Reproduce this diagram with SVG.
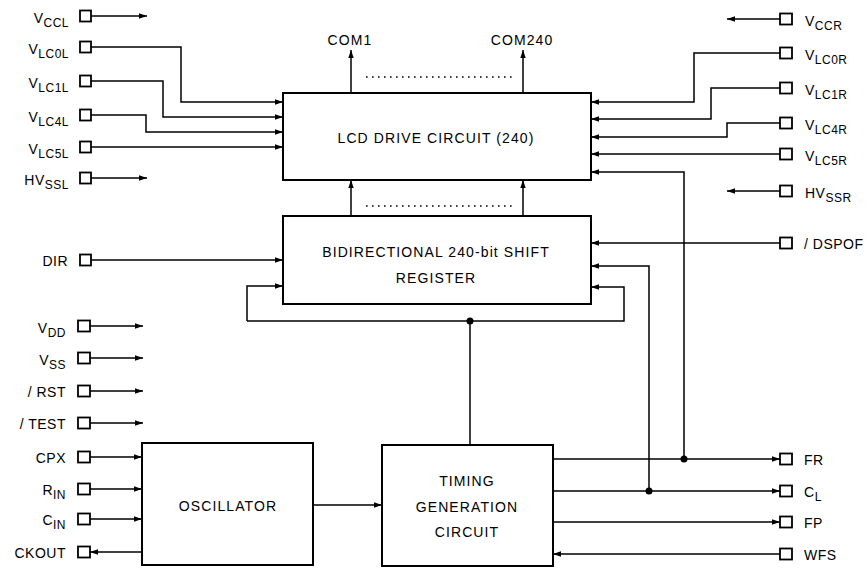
<svg xmlns="http://www.w3.org/2000/svg" width="868" height="570" viewBox="0 0 868 570">
<style>
.bx{fill:#fff;stroke:#000;stroke-width:2}
.pd{fill:#fff;stroke:#000;stroke-width:1.8}
.w{fill:none;stroke:#000;stroke-width:1.5}
.ar{marker-end:url(#a)}
.dt{fill:none;stroke:#000;stroke-width:1.6;stroke-dasharray:1.6 4.4}
text{font-family:"Liberation Sans",Arial,sans-serif;fill:#000}
.lb{font-size:14px;letter-spacing:0.5px}
.lbl{font-size:14px;letter-spacing:0.5px;text-anchor:end}
.sb{font-size:12px}
.bt{font-size:14px;letter-spacing:1.1px;text-anchor:middle}
</style>
<defs>
<marker id="a" viewBox="0 0 8 6" refX="8" refY="3" markerWidth="8" markerHeight="6" orient="auto" markerUnits="userSpaceOnUse"><path d="M0,0.3 L8,3 L0,5.7 z" fill="#000"/></marker>
</defs>

<g id="connectors">
<path class="w ar" d="M91,16 H147"/>
<path class="w ar" d="M91,47 H181 V102 H283"/>
<path class="w ar" d="M91,81 H163 V117 H283"/>
<path class="w ar" d="M91,115 H146 V132 H283"/>
<path class="w ar" d="M91,147 H283"/>
<path class="w ar" d="M91,178 H147"/>
<path class="w ar" d="M351,93 V50"/>
<path class="w ar" d="M523,93 V50"/>
<path class="dt" d="M366,77 H516"/>
<path class="w ar" d="M351,216 V180"/>
<path class="w ar" d="M523,216 V180"/>
<path class="dt" d="M366,206 H516"/>
<path class="w ar" d="M780,19 H727"/>
<path class="w ar" d="M780,53 H694 V102 H591"/>
<path class="w ar" d="M780,88 H711 V119 H591"/>
<path class="w ar" d="M780,123 H727 V137 H591"/>
<path class="w ar" d="M780,154 H591"/>
<path class="w ar" d="M780,191 H727"/>
<path class="w ar" d="M780,243 H591"/>
<path class="w ar" d="M91,260 H283"/>
<path class="w" d="M470,445 V321"/>
<path class="w ar" d="M247,321 H624 V287 H591"/>
<path class="w ar" d="M247,321 V286 H283"/>
<circle cx="470" cy="321" r="3.5" fill="#000"/>
<path class="w ar" d="M553,459 H780"/>
<path class="w ar" d="M684,459 V172 H591"/>
<circle cx="684" cy="459" r="3.5" fill="#000"/>
<path class="w ar" d="M553,491 H780"/>
<path class="w ar" d="M649,491 V266 H591"/>
<circle cx="649" cy="491" r="3.5" fill="#000"/>
<path class="w ar" d="M553,522 H780"/>
<path class="w ar" d="M780,554 H553"/>
<path class="w ar" d="M90,326 H143"/>
<path class="w ar" d="M90,358 H143"/>
<path class="w ar" d="M90,391 H143"/>
<path class="w ar" d="M90,423 H143"/>
<path class="w ar" d="M90,457 H142"/>
<path class="w ar" d="M90,489 H142"/>
<path class="w ar" d="M90,519 H142"/>
<path class="w ar" d="M142,552 H90"/>
<path class="w ar" d="M313,505 H382"/>
</g>

<g id="lcd"><rect class="bx" x="283" y="93" width="308" height="87"/><text class="bt" x="436" y="143">LCD DRIVE CIRCUIT (240)</text></g>
<g id="shift"><rect class="bx" x="283" y="216" width="308" height="88"/><text class="bt" x="436" y="257">BIDIRECTIONAL 240-bit SHIFT</text><text class="bt" x="436" y="283">REGISTER</text></g>
<g id="osc"><rect class="bx" x="142" y="443" width="171" height="122"/><text class="bt" x="228" y="511">OSCILLATOR</text></g>
<g id="timing"><rect class="bx" x="382" y="445" width="171" height="121"/><text class="bt" x="467" y="486">TIMING</text><text class="bt" x="467" y="512">GENERATION</text><text class="bt" x="467" y="537">CIRCUIT</text></g>
<g id="com"><text class="bt" x="350" y="45">COM1</text><text class="bt" x="522" y="45">COM240</text></g>

<g id="pin-vccl"><rect class="pd" x="80" y="10.5" width="11" height="11"/><text class="lbl" x="69" y="23">V<tspan class="sb" dy="4">CCL</tspan></text></g>
<g id="pin-vlc0l"><rect class="pd" x="80" y="41.5" width="11" height="11"/><text class="lbl" x="69" y="54">V<tspan class="sb" dy="4">LC0L</tspan></text></g>
<g id="pin-vlc1l"><rect class="pd" x="80" y="75.5" width="11" height="11"/><text class="lbl" x="69" y="88">V<tspan class="sb" dy="4">LC1L</tspan></text></g>
<g id="pin-vlc4l"><rect class="pd" x="80" y="109.5" width="11" height="11"/><text class="lbl" x="69" y="122">V<tspan class="sb" dy="4">LC4L</tspan></text></g>
<g id="pin-vlc5l"><rect class="pd" x="80" y="141.5" width="11" height="11"/><text class="lbl" x="69" y="154">V<tspan class="sb" dy="4">LC5L</tspan></text></g>
<g id="pin-hvssl"><rect class="pd" x="80" y="172.5" width="11" height="11"/><text class="lbl" x="69" y="185">HV<tspan class="sb" dy="4">SSL</tspan></text></g>
<g id="pin-dir"><rect class="pd" x="80" y="254.5" width="11" height="11"/><text class="lbl" x="68" y="266">DIR</text></g>
<g id="pin-vdd"><rect class="pd" x="78" y="320.5" width="12" height="11"/><text class="lbl" x="66" y="333">V<tspan class="sb" dy="4">DD</tspan></text></g>
<g id="pin-vss"><rect class="pd" x="78" y="352.5" width="12" height="11"/><text class="lbl" x="66" y="365">V<tspan class="sb" dy="4">SS</tspan></text></g>
<g id="pin-rst"><rect class="pd" x="78" y="385.5" width="12" height="11"/><text class="lbl" x="66" y="397">/ RST</text></g>
<g id="pin-test"><rect class="pd" x="78" y="417.5" width="12" height="11"/><text class="lbl" x="66" y="429">/ TEST</text></g>
<g id="pin-cpx"><rect class="pd" x="78" y="451.5" width="12" height="11"/><text class="lbl" x="66" y="463">CPX</text></g>
<g id="pin-rin"><rect class="pd" x="78" y="483.5" width="12" height="11"/><text class="lbl" x="66" y="495">R<tspan class="sb" dy="4">IN</tspan></text></g>
<g id="pin-cin"><rect class="pd" x="78" y="513.5" width="12" height="11"/><text class="lbl" x="66" y="525">C<tspan class="sb" dy="4">IN</tspan></text></g>
<g id="pin-ckout"><rect class="pd" x="78" y="546.5" width="12" height="11"/><text class="lbl" x="66" y="558">CKOUT</text></g>

<g id="pin-vccr"><rect class="pd" x="780" y="13.5" width="12" height="11"/><text class="lb" x="805" y="26">V<tspan class="sb" dy="4">CCR</tspan></text></g>
<g id="pin-vlc0r"><rect class="pd" x="780" y="47.5" width="12" height="11"/><text class="lb" x="805" y="60">V<tspan class="sb" dy="4">LC0R</tspan></text></g>
<g id="pin-vlc1r"><rect class="pd" x="780" y="82.5" width="12" height="11"/><text class="lb" x="805" y="95">V<tspan class="sb" dy="4">LC1R</tspan></text></g>
<g id="pin-vlc4r"><rect class="pd" x="780" y="117.5" width="12" height="11"/><text class="lb" x="805" y="130">V<tspan class="sb" dy="4">LC4R</tspan></text></g>
<g id="pin-vlc5r"><rect class="pd" x="780" y="148.5" width="12" height="11"/><text class="lb" x="805" y="161">V<tspan class="sb" dy="4">LC5R</tspan></text></g>
<g id="pin-hvssr"><rect class="pd" x="780" y="185.5" width="12" height="11"/><text class="lb" x="805" y="198">HV<tspan class="sb" dy="4">SSR</tspan></text></g>
<g id="pin-dspof"><rect class="pd" x="780" y="237.5" width="12" height="11"/><text class="lb" x="804" y="249">/ DSPOF</text></g>
<g id="pin-fr"><rect class="pd" x="780" y="453.5" width="12" height="11"/><text class="lb" x="804" y="465">FR</text></g>
<g id="pin-cl"><rect class="pd" x="780" y="485.5" width="12" height="11"/><text class="lb" x="804" y="497">C<tspan class="sb" dy="4">L</tspan></text></g>
<g id="pin-fp"><rect class="pd" x="780" y="516.5" width="12" height="11"/><text class="lb" x="804" y="528">FP</text></g>
<g id="pin-wfs"><rect class="pd" x="780" y="548.5" width="12" height="11"/><text class="lb" x="804" y="560">WFS</text></g>
</svg>
